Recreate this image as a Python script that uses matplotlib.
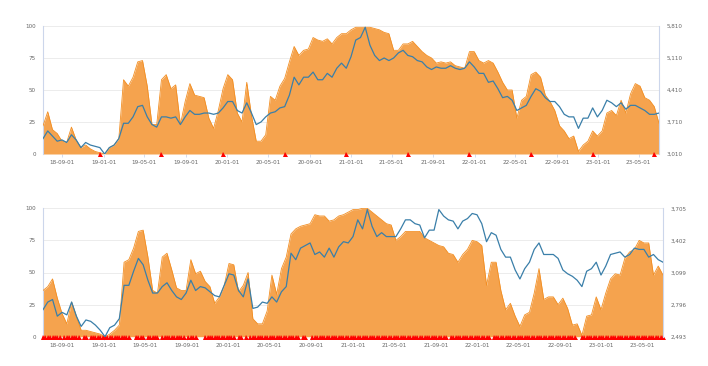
import matplotlib
matplotlib.use("Agg")
import matplotlib.pyplot as plt
import matplotlib.dates as mdates
from matplotlib.ticker import FuncFormatter
import pandas as pd

# ---------------- data ----------------
start_date = "2018-07-06"
n_points = 131          # bi-weekly observations
n_weeks = 261           # weekly grid for signal markers

top_pct = [22, 33, 19, 16, 10, 9, 21, 11, 5, 7, 4, 2, 1, 0, 5, 7, 12, 58, 53, 60,
           72, 73, 53, 23, 23, 58, 62, 51, 54, 23, 41, 55, 46, 45, 44, 28, 20, 34, 51, 62,
           58, 32, 25, 56, 30, 10, 10, 15, 45, 42, 53, 59, 72, 84, 77, 81, 82, 91, 89, 88,
           90, 86, 91, 94, 94, 97, 99, 99, 99, 99, 98, 97, 95, 94, 81, 81, 86, 86, 88, 84,
           80, 77, 75, 71, 72, 71, 72, 69, 68, 67, 80, 80, 73, 71, 73, 71, 64, 56, 50, 50,
           28, 42, 45, 62, 64, 60, 46, 41, 34, 22, 18, 12, 14, 2, 7, 10, 18, 14, 18, 32,
           34, 30, 42, 32, 47, 55, 53, 44, 42, 37, 24]

top_index = [3346, 3514, 3402, 3290, 3318, 3262, 3430, 3318, 3150, 3262, 3206, 3178, 3150, 3010, 3150, 3206,
             3346, 3682, 3682, 3822, 4046, 4074, 3822, 3654, 3598, 3822, 3822, 3794, 3822, 3654, 3822, 3962,
             3878, 3878, 3906, 3906, 3878, 3906, 4018, 4158, 4158, 3962, 3906, 4130, 3906, 3654, 3710, 3822,
             3906, 3934, 4018, 4046, 4298, 4690, 4522, 4690, 4690, 4802, 4634, 4634, 4774, 4690, 4886, 4998,
             4886, 5138, 5502, 5558, 5782, 5390, 5166, 5054, 5110, 5054, 5110, 5222, 5278, 5166, 5138, 5054,
             5026, 4914, 4858, 4914, 4886, 4886, 4942, 4886, 4858, 4886, 5026, 4914, 4774, 4774, 4578, 4606,
             4438, 4242, 4270, 4186, 3962, 4018, 4074, 4270, 4438, 4382, 4242, 4158, 4158, 4046, 3878, 3822,
             3822, 3570, 3794, 3794, 4018, 3822, 3962, 4186, 4130, 4046, 4130, 3990, 4074, 4074, 4018, 3962,
             3878, 3878, 3906]

bot_pct = [36, 39, 45, 30, 18, 10, 27, 16, 5, 5, 4, 3, 2, 0, 2, 5, 9, 58, 60, 69,
           82, 83, 62, 36, 34, 62, 65, 52, 38, 36, 36, 60, 49, 51, 43, 39, 26, 31, 40, 57,
           56, 35, 40, 50, 14, 10, 10, 20, 48, 33, 53, 62, 80, 84, 86, 87, 88, 95, 94, 94,
           90, 91, 94, 95, 97, 99, 99, 100, 100, 97, 94, 91, 88, 87, 75, 78, 82, 82, 82, 82,
           77, 75, 73, 71, 70, 65, 64, 58, 64, 68, 75, 74, 71, 40, 58, 58, 36, 21, 26, 16,
           8, 17, 19, 34, 53, 29, 31, 31, 25, 30, 22, 9, 10, 1, 16, 17, 31, 21, 34, 45,
           49, 48, 61, 66, 68, 75, 73, 73, 48, 55, 48]

bot_index = [2748, 2820, 2844, 2687, 2723, 2699, 2820, 2687, 2590, 2651, 2638, 2602, 2554, 2493, 2578, 2602,
             2663, 2978, 2978, 3111, 3232, 3172, 3026, 2905, 2905, 2966, 3002, 2929, 2869, 2844, 2905, 3026,
             2929, 2966, 2954, 2917, 2881, 2869, 2978, 3087, 3075, 2929, 2869, 3038, 2760, 2772, 2820, 2808,
             2869, 2820, 2917, 2966, 3281, 3220, 3329, 3354, 3378, 3269, 3293, 3244, 3329, 3244, 3341, 3390,
             3378, 3438, 3596, 3511, 3693, 3535, 3438, 3475, 3438, 3438, 3438, 3511, 3596, 3596, 3560, 3547,
             3426, 3499, 3499, 3693, 3632, 3596, 3584, 3511, 3584, 3608, 3656, 3644, 3560, 3390, 3475, 3451,
             3317, 3244, 3244, 3123, 3038, 3135, 3196, 3317, 3378, 3269, 3269, 3269, 3232, 3123, 3087, 3063,
             3026, 2966, 3111, 3135, 3196, 3075, 3160, 3269, 3281, 3293, 3244, 3269, 3329, 3317, 3317, 3244,
             3269, 3220, 3196]

top_signal_weeks = [24, 50, 76, 102, 128, 154, 180, 206, 232, 258]

bot_signal_runs = [(0, 4), (5, 7), (9, 10), (11, 12), (13, 15), (17, 18), (20, 21), (22, 24), (25, 25),
                   (26, 30), (31, 36), (39, 42), (44, 48), (50, 55), (56, 59), (61, 64), (68, 71),
                   (72, 74), (75, 77), (78, 80), (82, 83), (85, 85), (87, 90), (91, 92), (93, 107),
                   (109, 110), (113, 117), (118, 119), (120, 135), (136, 139), (140, 147), (148, 150),
                   (151, 169), (171, 187), (189, 220), (221, 223), (226, 242), (243, 260)]

top_right_ticks = [3010, 3710, 4410, 5110, 5810]
bot_right_ticks = [2493, 2796, 3099, 3402, 3705]
left_ticks = [0, 25, 50, 75, 100]
xtick_dates = ["2018-09-01", "2019-01-01", "2019-05-01", "2019-09-01", "2020-01-01", "2020-05-01",
               "2020-09-01", "2021-01-01", "2021-05-01", "2021-09-01", "2022-01-01", "2022-05-01",
               "2022-09-01", "2023-01-01", "2023-05-01"]

# ---------------- styling ----------------
ORANGE_FILL = "#f5a34e"
ORANGE_EDGE = "#f28e22"
BLUE = "#3a7fa9"
AXIS_LINE = "#ccd6eb"
GRID = "#e9e9e9"
TEXT = "#666666"
FS = 4.1

dates = pd.date_range(start_date, periods=n_points, freq="14D")
weeks = pd.date_range(start_date, periods=n_weeks, freq="7D")
xt = pd.to_datetime(xtick_dates)

fig = plt.figure(figsize=(7.08, 3.66), dpi=100)
W, H = 708.0, 366.0


def make_panel(rect, pct, idx, right_ticks, sig_dates):
    ax = fig.add_axes(rect)
    ax.fill_between(dates, 0, pct, color=ORANGE_FILL, lw=0, zorder=2)
    ax.plot(dates, pct, color=ORANGE_EDGE, lw=0.6, zorder=3)
    ax.set_ylim(0, 100)
    ax.set_xlim(dates[0], dates[-1])
    ax.set_yticks(left_ticks)
    ax.yaxis.grid(True, color=GRID, lw=0.6, zorder=0)
    ax.set_axisbelow(True)
    ax.set_xticks(xt)
    ax.xaxis.set_major_formatter(mdates.DateFormatter("%y-%m-%d"))
    ax.tick_params(axis="x", length=2, color=AXIS_LINE, width=0.6, labelsize=FS,
                   labelcolor=TEXT, pad=2.5)
    ax.tick_params(axis="y", length=0, labelsize=FS, labelcolor=TEXT, pad=5)
    for s in ["top", "bottom", "right"]:
        ax.spines[s].set_visible(False)
    ax.spines["left"].set_color(AXIS_LINE)
    ax.spines["left"].set_linewidth(0.8)
    ax.plot(sig_dates, [0] * len(sig_dates), linestyle="none", marker="^", ms=3.6,
            color="#ff0000", markeredgewidth=0, clip_on=False, zorder=6)

    ax2 = ax.twinx()
    ax2.plot(dates, idx, color=BLUE, lw=0.9, zorder=4)
    ax2.set_ylim(right_ticks[0], right_ticks[-1])
    ax2.set_yticks(right_ticks)
    ax2.yaxis.set_major_formatter(FuncFormatter(lambda v, p: f"{int(round(v)):,}"))
    ax2.tick_params(axis="y", length=0, labelsize=FS, labelcolor=TEXT, pad=5.5)
    for s in ["top", "bottom", "left"]:
        ax2.spines[s].set_visible(False)
    ax2.spines["right"].set_color(AXIS_LINE)
    ax2.spines["right"].set_linewidth(0.8)
    return ax, ax2


top_sig = [weeks[w] for w in top_signal_weeks]
bot_sig = [weeks[w] for a, b in bot_signal_runs for w in range(a, b + 1)]

make_panel([43 / W, 1 - 154 / H, 616 / W, 128 / H], top_pct, top_index, top_right_ticks, top_sig)
make_panel([43 / W, 1 - 336.7 / H, 620 / W, 128.4 / H], bot_pct, bot_index, bot_right_ticks, bot_sig)

fig.savefig("out.png", dpi=100, facecolor="white")
